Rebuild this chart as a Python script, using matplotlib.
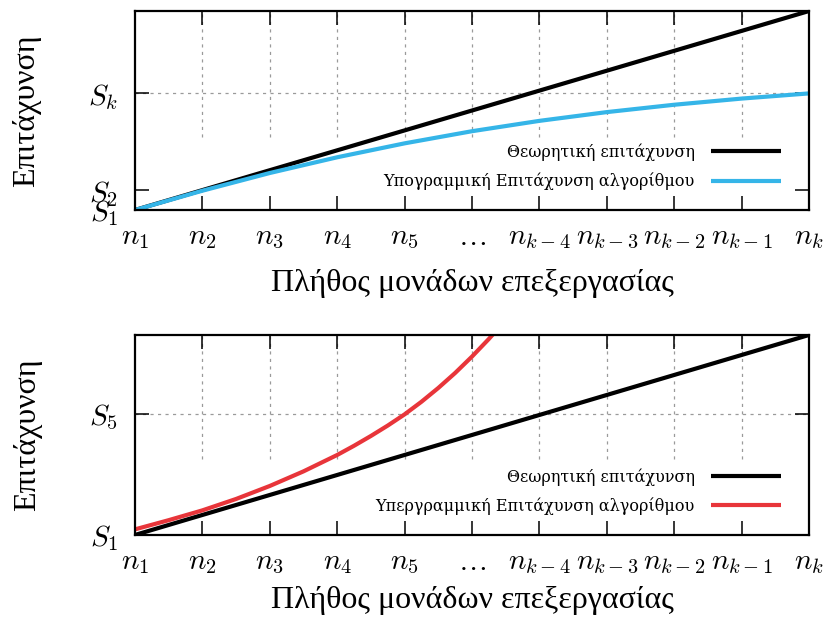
import numpy as np
import matplotlib
matplotlib.use("Agg")
import matplotlib.pyplot as plt

plt.rcParams['mathtext.fontset'] = 'cm'
plt.rcParams['font.family'] = ['Liberation Serif', 'DejaVu Serif']

# processor counts n_1 ... n_k (plotted at equal spacing)
procs = list(range(11))
proc_labels = [r'$n_1$', r'$n_2$', r'$n_3$', r'$n_4$', r'$n_5$', r'$\ldots$',
               r'$n_{k-4}$', r'$n_{k-3}$', r'$n_{k-2}$', r'$n_{k-1}$', r'$n_k$']

# speedup values
theoretical = [1, 2, 3, 4, 5, 6, 7, 8, 9, 10, 11]
sublinear = [1.0, 1.97, 2.86, 3.65, 4.35, 4.96, 5.48, 5.92, 6.29, 6.60, 6.86]
superlinear_x = [0, 0.5, 1, 1.5, 2, 2.5, 3, 3.25, 3.5, 3.75, 4, 4.25, 4.5,
                 4.75, 5, 5.25, 5.5]
superlinear = [1.28, 1.74, 2.23, 2.80, 3.45, 4.18, 5.00, 5.46, 5.95, 6.47,
               7.03, 7.66, 8.35, 9.10, 9.92, 10.80, 11.75]

top_yticks = [1, 2, 6.86]
top_ylabels = [r'$S_1$', r'$S_2$', r'$S_k$']
bottom_yticks = [1, 7.03]
bottom_ylabels = [r'$S_1$', r'$S_5$']

XLABEL = 'Πλήθος μονάδων επεξεργασίας'
YLABEL = 'Επιτάχυνση'
GRID_KW = dict(color='#9a9a9a', lw=0.9, ls=(0, (2.5, 3.5)), zorder=0)
LINE_KW = dict(lw=3, solid_joinstyle='round', solid_capstyle='butt')


def setup_axes(ax, yticks, ylabels, grid_cut, xpad):
    ax.set_xlim(0, 10)
    ax.set_ylim(1, 11)
    ax.set_xticks(procs)
    ax.set_xticklabels(proc_labels, fontsize=21)
    ax.set_yticks(yticks)
    ax.set_yticklabels(ylabels, fontsize=21)
    ax.tick_params(direction='in', length=10, width=1.1, top=True, right=True)
    ax.tick_params(axis='x', pad=11)
    ax.tick_params(axis='y', pad=12)
    for s in ax.spines.values():
        s.set_linewidth(1.6)

    # grid only above the key area
    for x in procs[1:-1]:
        ax.axvline(x, ymin=grid_cut, ymax=1, **GRID_KW)
    ax.axhline(yticks[-1], **GRID_KW)

    ax.set_xlabel(XLABEL, fontsize=23, labelpad=xpad)
    ax.set_ylabel(YLABEL, fontsize=23, labelpad=34)


def add_key(ax):
    ax.legend(loc='lower right', bbox_to_anchor=(0.9585, 0.10), frameon=False,
              markerfirst=False, prop={'family': 'DejaVu Serif', 'size': 11.5},
              handlelength=4.4, handletextpad=1.0, labelspacing=0.72,
              borderaxespad=0, borderpad=0)


fig = plt.figure(figsize=(8.26, 6.23), dpi=100)
ax1 = fig.add_axes([0.1634, 0.6629, 0.816, 0.3194])
ax2 = fig.add_axes([0.1634, 0.1413, 0.816, 0.321])

# sublinear case
ax1.plot(procs, theoretical, color='black', label='Θεωρητική επιτάχυνση', **LINE_KW)
ax1.plot(procs, sublinear, color='#35b5e8',
         label='Υπογραμμική Επιτάχυνση αλγορίθμου', **LINE_KW)
setup_axes(ax1, top_yticks, top_ylabels, 0.367, 13)
add_key(ax1)

# superlinear case
ax2.plot(procs, theoretical, color='black', label='Θεωρητική επιτάχυνση', **LINE_KW)
ax2.plot(superlinear_x, superlinear, color='#e8353a',
         label='Υπεργραμμική Επιτάχυνση αλγορίθμου', **LINE_KW)
setup_axes(ax2, bottom_yticks, bottom_ylabels, 0.38, 7)
add_key(ax2)

fig.savefig('out.png', dpi=100)
